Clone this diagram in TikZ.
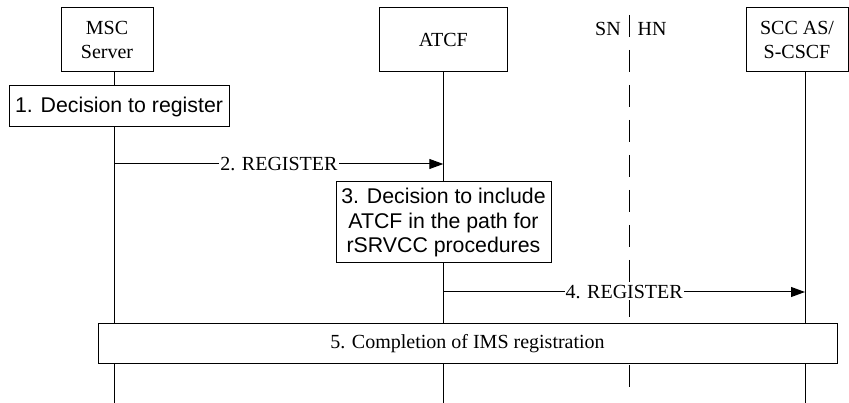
\documentclass[tikz,border=0pt]{standalone}
\usepackage{fontspec}
\setmainfont{Liberation Serif}
\newfontfamily\boxfont{Liberation Sans}
\usetikzlibrary{arrows.meta}
\tikzset{
  entity/.style={draw, line width=1pt, fill=white, inner sep=0pt, minimum height=64pt, align=center, font=\fontsize{20}{24}\selectfont},
  actbox/.style={draw, line width=1pt, fill=white, inner sep=0pt, align=center, font=\boxfont\fontsize{21.3}{24.5}\selectfont},
  life/.style={line width=1pt},
  msg/.style={line width=1pt, -{Triangle[length=14pt,width=10pt]}},
  lbl/.style={fill=white, inner sep=1pt, font=\fontsize{20}{24}\selectfont},
  plain/.style={inner sep=0pt, font=\fontsize{20}{24}\selectfont}
}
\begin{document}
\begin{tikzpicture}[x=1pt,y=-1pt]
\useasboundingbox (0,0) rectangle (849,403);
% lifeline coordinates
\coordinate (mscTop) at (114.5,72);
\coordinate (mscEnd) at (114.5,403);
\coordinate (atcfTop) at (443.3,72);
\coordinate (atcfEnd) at (443.3,403);
\coordinate (sccTop) at (805,72);
\coordinate (sccEnd) at (805,403);
\coordinate (snTop) at (629,15);
\coordinate (snEnd) at (629,390);
\draw[life] (mscTop) -- (mscEnd);
\draw[life] (atcfTop) -- (atcfEnd);
\draw[life] (sccTop) -- (sccEnd);
\draw[life, dash pattern=on 22pt off 13pt] (snTop) -- (snEnd);
% entities
\node[entity, minimum width=92pt] (msc) at (107,40) {MSC\\Server};
\node[entity, minimum width=128pt] (atcf) at (443.3,40) {ATCF};
\node[entity, minimum width=102pt] (scc) at (797,40) {SCC AS/\\S-CSCF};
\node[plain, anchor=base] (sn) at (608,36) {SN};
\node[plain, anchor=base] (hn) at (652,36) {HN};
% step 1
\node[actbox, minimum width=220pt, minimum height=41pt] (s1) at (119,106.5) {1. Decision to register};
% step 2
\coordinate (a2s) at (114.5,164);
\coordinate (a2e) at (443.3,164);
\draw[msg] (a2s) -- node[lbl] {2. REGISTER} (a2e);
% step 3
\node[actbox, minimum width=215pt, minimum height=81pt] (s3) at (443.5,222.5) {3. Decision to include\\ATCF in the path for\\rSRVCC procedures};
% step 4
\coordinate (a4s) at (443.3,292);
\coordinate (a4e) at (805,292);
\draw[msg] (a4s) -- node[lbl] {4. REGISTER} (a4e);
% step 5
\node[entity, minimum width=739pt, minimum height=40pt] (s5) at (467.5,344) {5. Completion of IMS registration};
\end{tikzpicture}
\end{document}
